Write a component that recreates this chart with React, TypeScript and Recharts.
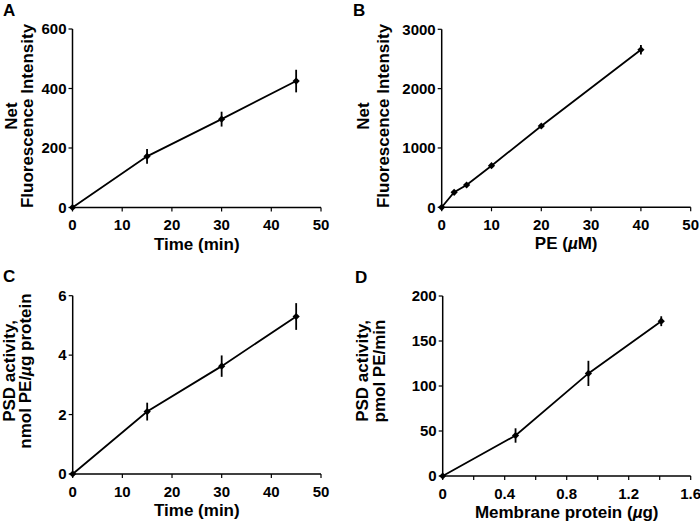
import React from 'react';
import { LineChart, Line, XAxis, YAxis, ErrorBar } from 'recharts';

// ---- Panel A: fluorescence vs time ----
const timeA = [0, 15, 30, 45];
const intensityA = [0, 172, 297, 425];
const errA = [0, 25, 25, 38];
const xTicksA = [0, 10, 20, 30, 40, 50];
const yTicksA = [0, 200, 400, 600];

// ---- Panel B: fluorescence vs PE ----
const peB = [0, 2.5, 5, 10, 20, 40];
const intensityB = [0, 253, 376, 701, 1370, 2655];
const errB = [0, 25, 25, 25, 30, 80];
const xTicksB = [0, 10, 20, 30, 40, 50];
const yTicksB = [0, 1000, 2000, 3000];

// ---- Panel C: PSD activity vs time ----
const timeC = [0, 15, 30, 45];
const activityC = [0, 2.1, 3.63, 5.3];
const errC = [0, 0.3, 0.36, 0.45];
const xTicksC = [0, 10, 20, 30, 40, 50];
const yTicksC = [0, 2, 4, 6];

// ---- Panel D: PSD activity vs membrane protein ----
const proteinD = [0, 0.47, 0.94, 1.41];
const activityD = [0, 45, 114, 172];
const errD = [0, 8, 14, 5.5];
const xTicksD = [0, 0.2, 0.4, 0.6, 0.8, 1.0, 1.2, 1.4, 1.6];
const xTickLabelsD = ['0', '', '0.4', '', '0.8', '', '1.2', '', '1.6'];
const yTicksD = [0, 50, 100, 150, 200];

const FONT = "'Liberation Sans', Arial, Helvetica, sans-serif";

const rows = (xs: number[], ys: number[], es: number[]) =>
  xs.map((x, i) => ({ x, y: ys[i], e: es[i] }));

const Diamond = (props: any) => {
  const { cx, cy, index } = props;
  if (cx == null || cy == null) return <g key={`n-${index}`} />;
  const r = 3.6;
  return (
    <path
      key={`d-${index}`}
      d={`M${cx},${cy - r}L${cx + r},${cy}L${cx},${cy + r}L${cx - r},${cy}Z`}
      fill="#000"
    />
  );
};

type PanelProps = {
  left: number;
  top: number;
  height: number;
  margin: { top: number; right: number; bottom: number; left: number };
  yWidth: number;
  xHeight: number;
  data: { x: number; y: number; e: number }[];
  xDomain: [number, number];
  xTicks: number[];
  xFormatter?: (v: any, i: number) => string;
  yDomain: [number, number];
  yTicks: number[];
  xTitle: React.ReactNode;
  yLines: React.ReactNode[];
  yLineX: number[];
  yCenter: number;
  letter: string;
  letterPos: [number, number];
};

const Panel = (p: PanelProps) => {
  const tickStyle = { fill: '#000', fontSize: 15, fontWeight: 700, fontFamily: FONT };
  const axisLine = { stroke: '#000', strokeWidth: 1.5 };
  const tickLine = { stroke: '#000', strokeWidth: 1.2 };
  return (
    <div style={{ position: 'absolute', left: p.left, top: p.top }}>
      <LineChart
        width={350}
        height={p.height}
        data={p.data}
        margin={p.margin}
        style={{ overflow: 'visible' }}
      >
        <XAxis
          dataKey="x"
          type="number"
          domain={p.xDomain}
          ticks={p.xTicks}
          interval={0}
          tickFormatter={p.xFormatter}
          tick={tickStyle}
          tickSize={4}
          tickMargin={8}
          axisLine={axisLine}
          tickLine={tickLine}
          height={p.xHeight}
          label={(lp: any) => {
            const vb = lp.viewBox || {};
            return (
              <text
                x={vb.x + vb.width / 2}
                y={vb.y + 42}
                textAnchor="middle"
                fontSize={17}
                fontWeight={700}
                fontFamily={FONT}
                fill="#000"
              >
                {p.xTitle}
              </text>
            );
          }}
        />
        <YAxis
          type="number"
          domain={p.yDomain}
          ticks={p.yTicks}
          interval={0}
          tick={tickStyle}
          tickSize={4}
          tickMargin={2}
          axisLine={axisLine}
          tickLine={tickLine}
          width={p.yWidth}
          label={() => (
            <g>
              <text
                x={p.letterPos[0]}
                y={p.letterPos[1]}
                fontSize={17}
                fontWeight={700}
                fontFamily={FONT}
                fill="#000"
              >
                {p.letter}
              </text>
              {p.yLines.map((ln, i) => (
                <text
                  key={i}
                  transform={`translate(${p.yLineX[i]},${p.yCenter}) rotate(-90)`}
                  textAnchor="middle"
                  fontSize={17}
                  fontWeight={700}
                  fontFamily={FONT}
                  fill="#000"
                >
                  {ln}
                </text>
              ))}
            </g>
          )}
        />
        <Line
          dataKey="y"
          type="linear"
          stroke="#000"
          strokeWidth={1.8}
          dot={Diamond}
          activeDot={false}
          isAnimationActive={false}
        >
          <ErrorBar
            dataKey="e"
            direction="y"
            width={0}
            stroke="#000"
            strokeWidth={1.8}
            isAnimationActive={false}
          />
        </Line>
      </LineChart>
    </div>
  );
};

const mu = <tspan fontStyle="italic">µ</tspan>;

export default function App() {
  return (
    <div
      style={{
        position: 'fixed',
        left: 0,
        top: 0,
        width: 700,
        height: 523,
        background: '#fff',
        overflow: 'hidden',
      }}
    >
      <Panel
        left={0}
        top={0}
        height={261}
        margin={{ top: 29, right: 29, bottom: 0, left: 0 }}
        yWidth={72.5}
        xHeight={53.5}
        data={rows(timeA, intensityA, errA)}
        xDomain={[0, 50]}
        xTicks={xTicksA}
        yDomain={[0, 600]}
        yTicks={yTicksA}
        xTitle="Time (min)"
        yLines={['Net', 'Fluorescence Intensity']}
        yLineX={[17, 33]}
        yCenter={116}
        letter="A"
        letterPos={[3, 16]}
      />
      <Panel
        left={350}
        top={0}
        height={261}
        margin={{ top: 29.3, right: 9.3, bottom: 0, left: 0 }}
        yWidth={91.7}
        xHeight={53.7}
        data={rows(peB, intensityB, errB)}
        xDomain={[0, 50]}
        xTicks={xTicksB}
        yDomain={[0, 3000]}
        yTicks={yTicksB}
        xTitle={<>PE ({mu}M)</>}
        yLines={['Net', 'Fluorescence Intensity']}
        yLineX={[19, 39]}
        yCenter={116}
        letter="B"
        letterPos={[3, 16]}
      />
      <Panel
        left={0}
        top={261}
        height={262}
        margin={{ top: 34.7, right: 29, bottom: 0, left: 0 }}
        yWidth={72.7}
        xHeight={49}
        data={rows(timeC, activityC, errC)}
        xDomain={[0, 50]}
        xTicks={xTicksC}
        yDomain={[0, 6]}
        yTicks={yTicksC}
        xTitle="Time (min)"
        yLines={['PSD activity,', <>nmol PE/{mu}g protein</>]}
        yLineX={[15, 31]}
        yCenter={110}
        letter="C"
        letterPos={[3, 21]}
      />
      <Panel
        left={350}
        top={261}
        height={262}
        margin={{ top: 35, right: 9.3, bottom: 0, left: 0 }}
        yWidth={92.7}
        xHeight={47}
        data={rows(proteinD, activityD, errD)}
        xDomain={[0, 1.6]}
        xTicks={xTicksD}
        xFormatter={(v: any, i: number) => xTickLabelsD[i] ?? ''}
        yDomain={[0, 200]}
        yTicks={yTicksD}
        xTitle={<>Membrane protein ({mu}g)</>}
        yLines={['PSD activity,', 'pmol PE/min']}
        yLineX={[18, 35]}
        yCenter={110}
        letter="D"
        letterPos={[5, 22]}
      />
    </div>
  );
}
